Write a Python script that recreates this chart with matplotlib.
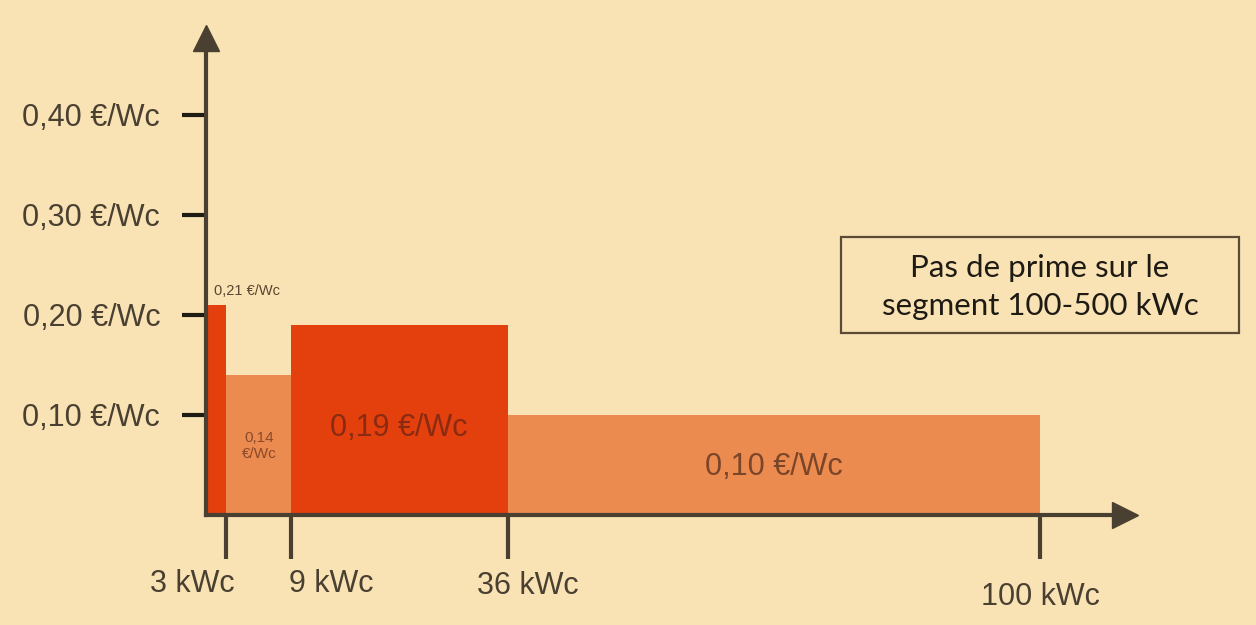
import matplotlib.pyplot as plt
import numpy as np

# Segments de puissance (kWc) et primes (EUR/Wc)
seg_debut = [0, 3, 9, 36]
seg_fin = [3, 9, 36, 100]
primes = [0.21, 0.14, 0.19, 0.10]
etiquettes_barres = ['0,21 €/Wc', '0,14\n€/Wc', '0,19 €/Wc', '0,10 €/Wc']
couleurs = ['#E3400D', '#EC8B50', '#E3400D', '#EC8B50']

ticks_x = [3, 9, 36, 100]
labels_x = ['3 kWc', '9 kWc', '36 kWc', '100 kWc']
ticks_y = [0.10, 0.20, 0.30, 0.40]
labels_y = ['0,10 €/Wc', '0,20 €/Wc', '0,30 €/Wc', '0,40 €/Wc']

fond = '#F9E3B4'
brun = '#4A4032'

# echelle x non proportionnelle (comme le schema)
kw_pts = [0, 3, 9, 36, 100, 118]
px_pts = [0, 20, 85, 302, 834, 919]

def fwd(x):
    return np.interp(x, kw_pts, px_pts)

def inv(p):
    return np.interp(p, px_pts, kw_pts)

plt.rcParams['font.family'] = ['Liberation Sans', 'DejaVu Sans']

fig = plt.figure(figsize=(12.56, 6.25), dpi=100, facecolor=fond)
ax = fig.add_axes([206 / 1256, 110 / 625, 919 / 1256, 477 / 625])
ax.set_facecolor(fond)
ax.set_xscale('function', functions=(fwd, inv))
ax.set_xlim(0, 118)
ax.set_ylim(0, 0.477)

for d, f, h, c in zip(seg_debut, seg_fin, primes, couleurs):
    ax.bar(d, h, width=f - d, align='edge', color=c, linewidth=0, zorder=1)

# etiquettes des barres
ax.annotate(etiquettes_barres[0], (1.5, primes[0]), xytext=(22, 10),
            textcoords='offset points', ha='center', va='center',
            fontsize=10.5, color='#5A4630')
ax.text(6.05, 0.069, etiquettes_barres[1], ha='center', va='center',
        fontsize=11, color='#8A4A2A', linespacing=1.1)
ax.text(22.4, 0.087, etiquettes_barres[2], ha='center', va='center',
        fontsize=22, color='#8A2A12')
ax.text(68, 0.048, etiquettes_barres[3], ha='center', va='center',
        fontsize=22, color='#7A4528')

# axes avec fleches
for s in ['top', 'right']:
    ax.spines[s].set_visible(False)
for s in ['left', 'bottom']:
    ax.spines[s].set_color(brun)
    ax.spines[s].set_linewidth(3)
    ax.spines[s].set_zorder(3)
ax.plot(1, 0, '>', color=brun, markersize=19, transform=ax.transAxes, clip_on=False)
ax.plot(0, 1, '^', color=brun, markersize=19, transform=ax.transAxes, clip_on=False)

ax.set_yticks(ticks_y)
ax.set_yticklabels(labels_y, fontsize=22, color='#4A4032')
ax.tick_params(axis='y', length=17, width=3, color='#1E1A14', pad=16)

ax.set_xticks(ticks_x)
ax.set_xticklabels([])
ax.tick_params(axis='x', length=32, width=3, color=brun)

# etiquettes x (decalees comme sur le schema)
decal = [(-24, -50), (29, -50), (14, -51), (0, -59)]
for t, lab, (dx, dy) in zip(ticks_x, labels_x, decal):
    ax.annotate(lab, (t, 0), xytext=(dx, dy), textcoords='offset points',
                ha='center', va='center', fontsize=22, color='#4A4032',
                annotation_clip=False)

# encadre
fig.text(1040 / 1256, 1 - 287 / 625, 'Pas de prime sur le\nsegment 100-500 kWc',
         ha='center', va='center', fontsize=22.5, color='#1E1A14',
         family=['Lato', 'DejaVu Sans'], linespacing=1.4)
fig.patches.append(plt.Rectangle((841 / 1256, 1 - 333 / 625), 398 / 1256, 96 / 625,
                                 transform=fig.transFigure, fill=False,
                                 edgecolor='#5A4A36', linewidth=1.6))

fig.savefig('out.png', dpi=100, facecolor=fond)
